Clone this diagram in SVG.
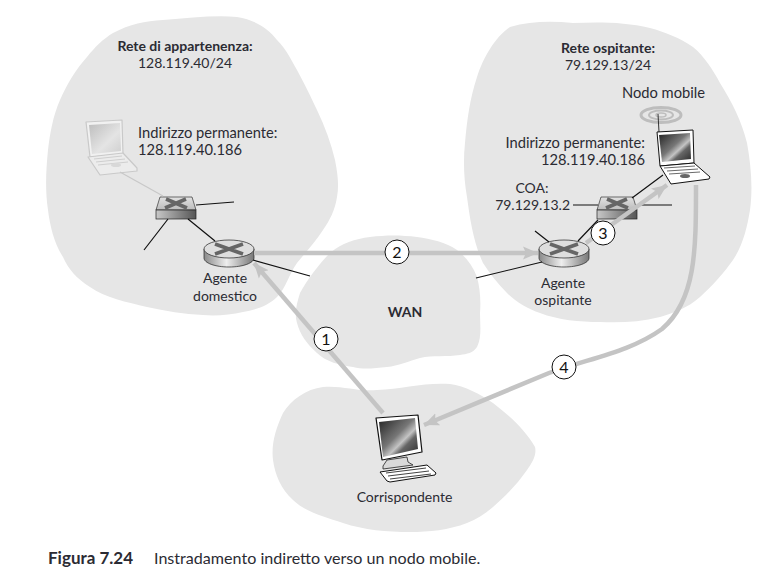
<svg xmlns="http://www.w3.org/2000/svg" width="774" height="579" viewBox="0 0 774 579">
<style>
text{font-family:"Lato","Open Sans",sans-serif;font-size:14px;fill:#2b2b33}
.b{font-weight:700}
.m{text-anchor:middle}
.e{text-anchor:end}
.w{font-size:14.7px}
.blob{fill:#e6e6e6}
.l{stroke:#111;stroke-width:1.2;fill:none}
.g{stroke:#c4c4c4;stroke-width:4.5;fill:none}
.c{fill:#fff;stroke:#111;stroke-width:1}
.n{font-size:16px;text-anchor:middle;fill:#111}
.x{stroke:#666;stroke-width:3.6;fill:none}
</style>
<defs>
<linearGradient id="rg" x1="0" x2="1" y1="0" y2="0"><stop offset="0" stop-color="#8a8a8a"/><stop offset=".45" stop-color="#eee"/><stop offset="1" stop-color="#777"/></linearGradient>
<linearGradient id="st" x1="0" x2="0" y1="0" y2="1"><stop offset="0" stop-color="#e2e2e2"/><stop offset="1" stop-color="#bbb"/></linearGradient>
<linearGradient id="sg" x1="0" x2="1" y1="0" y2="0"><stop offset="0" stop-color="#c8c8c8"/><stop offset="1" stop-color="#555"/></linearGradient>
<linearGradient id="sc" x1="0" x2="1" y1="0" y2="1"><stop offset="0" stop-color="#222"/><stop offset=".45" stop-color="#777"/><stop offset=".6" stop-color="#c4c4c4"/><stop offset=".7" stop-color="#666"/><stop offset="1" stop-color="#2a2a2a"/></linearGradient>
<linearGradient id="sf" x1="0" x2="1" y1="0" y2="1"><stop offset="0" stop-color="#bdbdbd"/><stop offset=".6" stop-color="#e4e4e4"/><stop offset="1" stop-color="#cfcfcf"/></linearGradient>
<marker id="a" markerUnits="userSpaceOnUse" markerWidth="18" markerHeight="14" refX="15" refY="7" orient="auto"><path d="M0 0.5L15 7L0 13.5L3 7Z" fill="#c4c4c4"/></marker>
<g id="router"><path d="M-25-4V5C-25 10-14 14 0 14S25 10 25 5V-4Z" fill="url(#rg)" stroke="#222" stroke-width=".7"/><ellipse rx="25" ry="9" cy="-4" fill="#dedede" stroke="#222" stroke-width=".7"/><path class="x" d="M-14-9L14 1M-14 1L14-9"/></g>
<g id="switch"><path d="M-16 0H16L20 13H-20Z" fill="url(#st)" stroke="#333" stroke-width=".7"/><rect x="-20" y="13" width="40" height="9" fill="url(#sg)" stroke="#222" stroke-width=".7"/><path class="x" d="M-10 2L11 11M-11 11L10 2"/></g>
</defs>
<g id="blobs">
<path class="blob" d="M113 33C130 24 145 21 163 20C190 18 215 15 237 17C255 20 268 28 277 40C287 50 291 60 297 70C305 85 311 97 317 110C325 127 331 143 335 160C338 175 339 186 337 197C335 210 330 220 323 230C316 241 306 252 297 263C289 274 286 288 277 297C268 306 255 310 243 312C230 315 216 316 203 315C184 314 165 311 147 307C127 302 105 298 90 287C76 278 69 270 63 257C54 243 50 226 48 210C45 190 46 170 48 150C50 133 53 116 60 100C67 84 76 69 87 57C95 47 103 39 113 33Z"/>
<path class="blob" d="M510 27C530 21 552 21 573 23C600 22 625 22 650 28C665 32 680 38 693 47C704 56 713 70 720 83C732 102 742 122 747 143C751 165 753 188 750 210C747 228 743 245 733 260C724 273 712 286 700 297C688 308 673 313 660 317C640 322 620 323 600 322C580 322 558 320 540 313C528 309 516 302 507 293C498 284 490 274 483 263C474 244 470 220 467 197C464 180 463 161 465 143C467 120 470 98 477 77C483 58 495 37 510 27Z"/>
<path class="blob" d="M370 237C386 235 401 235 417 237C431 239 446 242 457 250C466 257 473 266 477 277C480 288 481 301 480 313C480 324 482 337 477 347C473 353 467 354 460 355C447 357 433 355 420 358C409 361 398 366 387 367C375 368 364 370 353 367C340 365 326 362 317 353C306 343 300 334 297 323C294 313 297 303 300 293C307 280 320 263 330 253C342 243 355 239 370 237Z"/>
<path class="blob" d="M323 387C341 385 359 392 377 390C402 389 426 382 450 384C465 386 480 394 493 403C510 416 525 430 535 447C537 455 532 463 527 470C518 483 506 496 493 507C485 514 477 519 467 523C449 530 429 532 410 532C387 532 364 530 343 523C325 517 305 512 293 500C281 489 275 475 273 460C271 444 276 428 283 413C291 400 306 389 323 387Z"/>
</g>
<g id="n-lap1">
<path d="M86 122L122 120L123 154L90 157Z" fill="#f1f1f1" stroke="#c9c9c9" stroke-width="1.2" stroke-linejoin="round"/>
<path d="M89 125L120 123L121 151L92 154Z" fill="url(#sf)"/>
<path d="M88 157L123 153L137 168L137 171L100 175Z" fill="#ececec" stroke="#c9c9c9" stroke-width="1.2" stroke-linejoin="round"/>
<path d="M94 159L122 156M96 162L125 159M98 165L128 162" stroke="#cfcfcf" stroke-width="1"/>
<ellipse cx="116" cy="165" rx="5" ry="2" fill="#d8d8d8"/>
</g>
<g id="n-sw1"><use href="#switch" x="176" y="197"/></g>
<g id="n-r1"><use href="#router" x="229" y="253"/></g>
<g id="n-r2"><use href="#router" x="564" y="253"/></g>
<g id="n-sw2"><use href="#switch" x="617" y="197"/></g>
<g id="n-lap2">
<g fill="none" stroke="#bdbdbd"><ellipse cx="661" cy="115" rx="20" ry="7.5" stroke-width="3"/><ellipse cx="661" cy="115" rx="12" ry="4.5" stroke-width="2"/><ellipse cx="661" cy="115" rx="5" ry="2" stroke-width="1.5"/></g>
<path d="M659 132L658 114" stroke="#333" stroke-width="1"/>
<path d="M657 132L693 130L694 163L660 166Z" fill="#fff" stroke="#111" stroke-linejoin="round"/>
<path d="M659 135L690 133L691 159L662 162Z" fill="url(#sc)"/>
<path d="M660 166L694 163L710 177L709 179L671 184Z" fill="#fff" stroke="#111" stroke-linejoin="round"/>
<path d="M664 168L695 166M667 171L698 169M669 174L700 172" stroke="#444" stroke-width=".8"/>
<ellipse cx="685" cy="176" rx="5" ry="2" fill="#666"/>
</g>
<g id="n-pc">
<path d="M376 418L418 415L422 452L382 460Z" fill="#fff" stroke="#111" stroke-width="1.2" stroke-linejoin="round"/>
<path d="M379 422L415 418L418 449L383 457Z" fill="url(#sc)"/>
<path d="M387 460L407 457L408 462L413 465L383 469L383 466Z" fill="#d9d9d9" stroke="#222" stroke-width=".8"/>
<path d="M380 472L427 465L436 473L435 475L390 482L387 481Z" fill="#fff" stroke="#111" stroke-linejoin="round"/>
<path d="M386 473L426 468M388 476L429 471M390 479L431 474" stroke="#444" stroke-width="1"/>
</g>
<g id="connectors">
<path d="M120 172L163 196" stroke="#c8c8c8" stroke-width="1.2" fill="none"/>
<path class="l" d="M196 205L234 202M168 219L144 250M188 219L215 241M253 260L310 276M476 278L542 262M535 231L549 242M578 241L598 220M632 198L663 175M641 205H672M573 205H598"/>
<path class="g" d="M254 253H538" marker-end="url(#a)"/>
<path class="g" d="M383 413L254 263" marker-end="url(#a)"/>
<path class="g" d="M586 243L667 185" marker-end="url(#a)"/>
<path class="g" d="M696 185C696 250 696 300 662 329C630 352 590 358 549 373L424 425" marker-end="url(#a)"/>
</g>
<g id="n-1"><circle class="c" cx="326" cy="339" r="12"/><text class="n" x="326" y="345">1</text></g>
<g id="n-2"><circle class="c" cx="397" cy="252" r="12"/><text class="n" x="397" y="258">2</text></g>
<g id="n-3"><circle class="c" cx="603" cy="233" r="12"/><text class="n" x="603" y="239">3</text></g>
<g id="n-4"><circle class="c" cx="564" cy="367" r="12"/><text class="n" x="564" y="373">4</text></g>
<g id="labels">
<text class="b m" x="185" y="51">Rete di appartenenza:</text>
<text class="m" x="185" y="68">128.119.40/24</text>
<text class="w" x="138" y="138">Indirizzo permanente:</text>
<text class="w" x="138" y="155">128.119.40.186</text>
<text class="m" x="225" y="283">Agente</text>
<text class="m" x="225" y="301">domestico</text>
<text class="b m" x="405" y="317">WAN</text>
<text class="b m" x="608" y="53">Rete ospitante:</text>
<text class="m" x="608" y="70">79.129.13/24</text>
<text class="m w" x="663.5" y="98">Nodo mobile</text>
<text class="e w" x="645" y="148">Indirizzo permanente:</text>
<text class="e w" x="645" y="165">128.119.40.186</text>
<text class="m" x="532" y="193">COA:</text>
<text class="e" x="570" y="210">79.129.13.2</text>
<text class="m" x="563" y="288">Agente</text>
<text class="m" x="563" y="305">ospitante</text>
<text class="m" x="404.5" y="502">Corrispondente</text>
<text class="b" x="48" y="564" style="font-size:17px">Figura 7.24</text>
<text x="154" y="564" style="font-size:16.1px">Instradamento indiretto verso un nodo mobile.</text>
</g>
</svg>
